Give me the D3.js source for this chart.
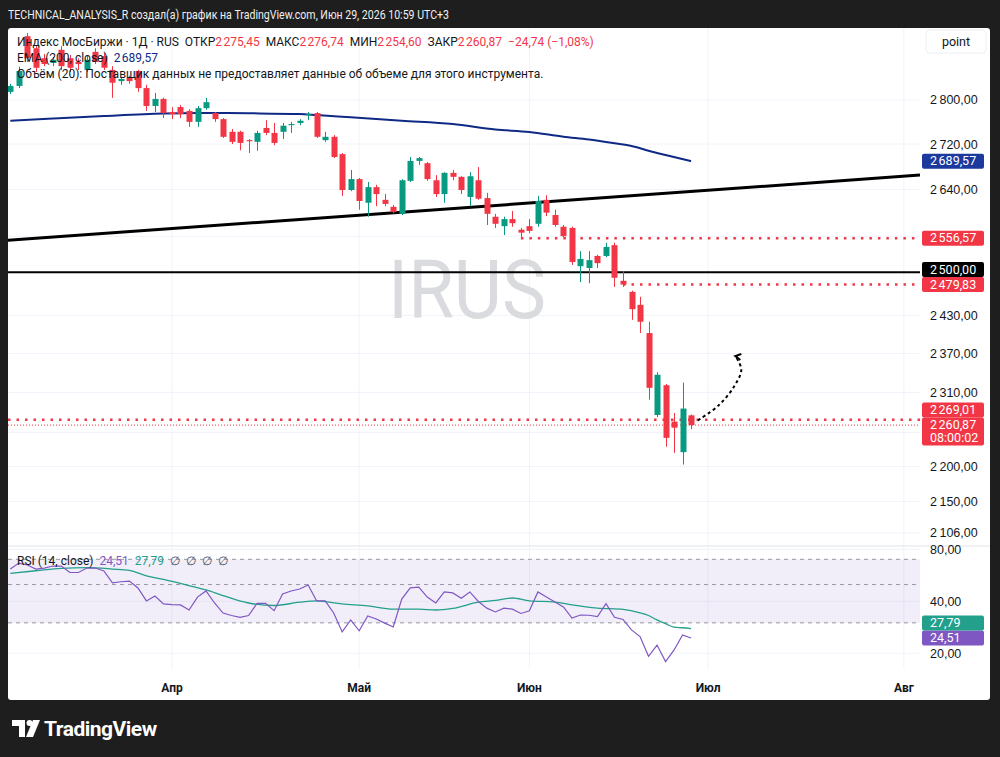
<!DOCTYPE html>
<html lang="ru">
<head>
<meta charset="utf-8">
<title>Индекс МосБиржи</title>
<script src="https://cdn.jsdelivr.net/npm/d3@7"></script>
<style>
  html, body { margin: 0; padding: 0; background: #1e1e1e; }
  #chart svg { display: block; font-family: Roboto, "Noto Sans", sans-serif; }
  #chart text { white-space: pre; }
</style>
</head>
<body>
<div id="chart"></div>
<script>
// ---- data ----
const firstIdx = -19; // trading-day index of the first visible candle, 0 = 1 Apr
const opens = [2815, 2826, 2920, 2897, 2878, 2869, 2894, 2878, 2871, 2856,
  2890, 2882, 2856, 2835, 2841, 2854, 2822, 2789, 2802, 2778,
  2787, 2780, 2760, 2785, 2776, 2765, 2742, 2742, 2727, 2724,
  2749, 2740, 2742, 2754, 2758, 2772, 2776, 2727, 2733, 2702,
  2639, 2658, 2617, 2644, 2622, 2610, 2598, 2655, 2690, 2686,
  2656, 2632, 2669, 2662, 2627, 2656, 2625, 2593, 2577, 2589,
  2571, 2577, 2581, 2622, 2596, 2576, 2574, 2510, 2507, 2527,
  2527, 2545, 2486, 2468, 2447, 2402, 2276, 2321, 2266, 2221, 2275.45];
const highs = [2830, 2862, 2926, 2903, 2886, 2880, 2901, 2884, 2878, 2882,
  2897, 2888, 2863, 2843, 2845, 2856, 2828, 2813, 2804, 2787,
  2791, 2783, 2789, 2804, 2778, 2767, 2747, 2744, 2729, 2744,
  2763, 2758, 2758, 2760, 2765, 2778, 2778, 2742, 2736, 2704,
  2674, 2660, 2653, 2648, 2632, 2613, 2658, 2697, 2697, 2688,
  2665, 2670, 2674, 2663, 2670, 2679, 2634, 2598, 2593, 2603,
  2574, 2589, 2629, 2630, 2605, 2579, 2576, 2535, 2535, 2529,
  2549, 2549, 2502, 2470, 2460, 2420, 2341, 2323, 2279, 2325, 2276.74];
const lows = [2811, 2822, 2871, 2852, 2863, 2863, 2856, 2852, 2856, 2852,
  2867, 2856, 2804, 2828, 2830, 2815, 2780, 2778, 2767, 2765,
  2767, 2751, 2751, 2782, 2760, 2731, 2720, 2709, 2704, 2708,
  2736, 2718, 2729, 2740, 2754, 2763, 2731, 2724, 2695, 2629,
  2637, 2605, 2593, 2611, 2611, 2599, 2596, 2653, 2683, 2655,
  2627, 2617, 2656, 2632, 2611, 2622, 2579, 2574, 2562, 2576,
  2556.57, 2565, 2576, 2594, 2576, 2558, 2512, 2484, 2482, 2507,
  2525, 2476, 2476, 2423, 2402, 2299, 2273, 2229, 2220, 2203, 2254.60];
const closes = [2826, 2854, 2878, 2860, 2867, 2875, 2863, 2860, 2867, 2875,
  2871, 2860, 2832, 2839, 2835, 2822, 2789, 2802, 2776, 2774,
  2774, 2760, 2785, 2796, 2765, 2733, 2724, 2722, 2725, 2740,
  2740, 2722, 2753, 2756, 2762, 2774, 2733, 2733, 2697, 2639,
  2658, 2620, 2644, 2632, 2615, 2601, 2656, 2690, 2695, 2658,
  2632, 2669, 2662, 2639, 2663, 2624, 2598, 2581, 2589, 2582,
  2566, 2569, 2620, 2600, 2579, 2560, 2517, 2522, 2520, 2515,
  2542, 2491, 2479.83, 2440, 2420, 2317, 2337, 2242, 2257, 2285.61, 2260.87];

const emaIdx = [-19, -14, -8, -1, 3, 9, 15, 17, 21, 27, 33, 38, 42, 46, 49, 52, 54, 56, 58, 61];
const emaVals = [2762.1, 2766.1, 2770.7, 2775.2, 2776.2, 2775.6, 2774.3, 2772.5, 2768.3, 2762.1,
  2756.1, 2746.2, 2741.7, 2733.2, 2728.2, 2721.4, 2716.5, 2708.1, 2700.5, 2689.57];

const rsiVals = [61.5, 66.6, 64.9, 61.5, 62.3, 64.0, 64.0, 58.7, 58.7, 62.3,
  62.3, 59.9, 51.2, 51.9, 52.4, 47.8, 40.2, 42.9, 38.6, 38.3,
  38.1, 35.6, 42.3, 45.9, 39.1, 34.2, 33.1, 32.3, 33.1, 38.9,
  38.9, 35.3, 44.1, 45.9, 47.1, 49.7, 40.2, 40.2, 34.2, 26.6,
  31.2, 27.0, 32.9, 31.6, 29.9, 28.4, 41.2, 47.8, 48.3, 42.3,
  39.1, 45.3, 44.7, 41.7, 45.3, 39.9, 36.5, 34.7, 36.5, 36.0,
  34.0, 35.2, 45.3, 42.3, 39.6, 37.1, 32.0, 33.3, 33.2, 32.6,
  38.8, 32.3, 31.4, 27.3, 25.0, 19.2, 22.3, 17.9, 20.9, 25.5, 24.51];
const rsiMaIdx = [-19, -16, -13, -10, -7, -5, -3, -1, 2, 4, 6, 9, 12, 15, 17, 20, 23, 26, 29, 31,
  33, 36, 38, 40, 42, 45, 47, 50, 53, 55, 56, 57, 58, 59, 60, 61];
const rsiMaVals = [58.1, 60.1, 62.1, 62.6, 61.5, 60.4, 56.1, 53.5, 49.3, 46.5, 43.2, 39.1, 37.8, 39.5, 40.2, 38.6, 37.6, 36.0, 36.0, 35.6,
  36.4, 39.5, 40.5, 41.8, 40.2, 39.6, 38.1, 36.5, 35.9, 34.3, 33.1, 31.2, 29.7, 28.3, 28.1, 27.79];

const monthLabels = ['Апр', 'Май', 'Июн', 'Июл', 'Авг'];
const monthIdx = [0, 22, 42, 63, 86];
const priceTicks = [2800, 2720, 2640, 2560, 2500, 2430, 2370, 2310, 2250, 2200, 2150, 2106];
const rsiTicks = [80, 40, 20];
const rsiBands = [70, 50, 30];

const trendIdx = [-19.3, 87.9];
const trendVals = [2553, 2665];
const blackLevel = 2500;
const levelVals = [2556.57, 2479.83, 2269.01];
const levelFrom = [41, 53, -19.3];
const arrowIdx = [61.8, 64.2, 66.0, 66.9, 66.2];
const arrowVals = [2268, 2290, 2318, 2345, 2366];

// ---- setup ----
const W = 1000, H = 757;
const pl = 8, pr = 920, pt = 28, pb = 545;   // main pane
const rt = 547, rb = 668;                     // rsi pane
const GREEN = '#089981', RED = '#f23645', DARK = '#131722';
const PURPLE = '#7e57c2', TEAL = '#22a08b', NAVY = '#0f2a85';

const loc = d3.formatLocale({ decimal: ',', thousands: '\u202f', grouping: [3], currency: ['', ''], minus: '\u2212' });
const fmt2 = loc.format(',.2f');

const candles = opens.map((o, k) => ({ i: firstIdx + k, o, h: highs[k], l: lows[k], c: closes[k] }));
const last = candles[candles.length - 1];
const prev = candles[candles.length - 2];

const x = d3.scaleLinear().domain([-19.27, 87.9]).range([pl, pr]);
const y = d3.scaleLog().domain([2089.4, 2935.8]).range([pb, pt]);
const yr = d3.scaleLog().domain([16.43, 82.5]).range([rb, rt]);

const svg = d3.select('#chart').append('svg')
  .attr('width', W).attr('height', H).attr('viewBox', `0 0 ${W} ${H}`);

svg.append('rect').attr('width', W).attr('height', H).attr('fill', '#1e1e1e');

// header
svg.append('text').attr('x', 8).attr('y', 18.5)
  .attr('font-size', 12.5).attr('fill', '#f0f0f0')
  .attr('textLength', 441).attr('lengthAdjust', 'spacingAndGlyphs')
  .text('TECHNICAL_ANALYSIS_R создал(а) график на TradingView.com, Июн 29, 2026 10:59 UTC+3');

// white panel
svg.append('rect').attr('x', 8).attr('y', 28).attr('width', 982).attr('height', 672)
  .attr('rx', 3).attr('fill', '#ffffff');

const defs = svg.append('defs');
defs.append('clipPath').attr('id', 'clip-main').append('rect')
  .attr('x', pl).attr('y', pt).attr('width', pr - pl).attr('height', pb - pt);
defs.append('clipPath').attr('id', 'clip-rsi').append('rect')
  .attr('x', pl).attr('y', rt).attr('width', pr - pl).attr('height', rb - rt);

// grid
const grid = svg.append('g').attr('stroke', '#f0f3fa').attr('stroke-width', 1);
grid.selectAll('.hg').data(priceTicks).join('line')
  .attr('x1', pl).attr('x2', pr).attr('y1', d => y(d)).attr('y2', d => y(d));
grid.selectAll('.rg').data(rsiTicks).join('line')
  .attr('x1', pl).attr('x2', pr).attr('y1', d => yr(d)).attr('y2', d => yr(d));
grid.selectAll('.vg').data(monthIdx).join('line')
  .attr('x1', d => x(d)).attr('x2', d => x(d)).attr('y1', pt).attr('y2', rb);

// pane separator
svg.append('line').attr('x1', pl).attr('x2', 990).attr('y1', 546).attr('y2', 546)
  .attr('stroke', '#e0e3eb');

// watermark
svg.append('text').attr('x', (pl + pr) / 2 + 3).attr('y', 318)
  .attr('text-anchor', 'middle').attr('font-size', 82).attr('fill', '#dadbdf')
  .attr('textLength', 158).attr('lengthAdjust', 'spacingAndGlyphs')
  .text('IRUS');

// ---- RSI pane ----
const rsiG = svg.append('g').attr('clip-path', 'url(#clip-rsi)');
rsiG.append('rect').attr('x', pl).attr('width', pr - pl)
  .attr('y', yr(rsiBands[0])).attr('height', yr(rsiBands[2]) - yr(rsiBands[0]))
  .attr('fill', 'rgba(126,87,194,0.1)');
rsiG.selectAll('.band').data(rsiBands).join('line')
  .attr('x1', pl).attr('x2', pr).attr('y1', d => yr(d)).attr('y2', d => yr(d))
  .attr('stroke', '#9598a1').attr('stroke-width', 1).attr('stroke-dasharray', '4,4');

const rsiMaLine = d3.line().x(d => x(d[0])).y(d => yr(d[1])).curve(d3.curveMonotoneX);
rsiG.append('path').datum(rsiMaIdx.map((d, k) => [d, rsiMaVals[k]]))
  .attr('d', rsiMaLine).attr('fill', 'none').attr('stroke', TEAL).attr('stroke-width', 1.3);
const rsiLine = d3.line().x((d, k) => x(firstIdx + k)).y(d => yr(d));
rsiG.append('path').datum(rsiVals)
  .attr('d', rsiLine).attr('fill', 'none').attr('stroke', PURPLE).attr('stroke-width', 1.2);

// ---- main pane ----
const main = svg.append('g').attr('clip-path', 'url(#clip-main)');

main.append('line')
  .attr('x1', x(trendIdx[0])).attr('y1', y(trendVals[0]))
  .attr('x2', x(trendIdx[1])).attr('y2', y(trendVals[1]))
  .attr('stroke', '#000').attr('stroke-width', 3);

main.append('line').attr('x1', pl).attr('x2', pr)
  .attr('y1', y(blackLevel)).attr('y2', y(blackLevel))
  .attr('stroke', '#000').attr('stroke-width', 2);

main.selectAll('.lvl').data(levelVals).join('line')
  .attr('x1', (d, k) => Math.max(pl, x(levelFrom[k]))).attr('x2', pr)
  .attr('y1', d => y(d)).attr('y2', d => y(d))
  .attr('stroke', RED).attr('stroke-width', 2.5).attr('stroke-dasharray', '2.5,6');

// last price line
main.append('line').attr('x1', pl).attr('x2', pr)
  .attr('y1', y(last.c)).attr('y2', y(last.c))
  .attr('stroke', RED).attr('stroke-width', 1).attr('stroke-dasharray', '1,2');

// EMA 200
const emaLine = d3.line().x(d => x(d[0])).y(d => y(d[1])).curve(d3.curveMonotoneX);
main.append('path').datum(emaIdx.map((d, k) => [d, emaVals[k]]))
  .attr('d', emaLine).attr('fill', 'none').attr('stroke', NAVY).attr('stroke-width', 2);

// candles
const col = d => (d.c >= d.o ? GREEN : RED);
const cg = main.append('g');
cg.selectAll('.wick').data(candles).join('line')
  .attr('x1', d => Math.round(x(d.i)) + 0.5).attr('x2', d => Math.round(x(d.i)) + 0.5)
  .attr('y1', d => y(d.h)).attr('y2', d => y(d.l))
  .attr('stroke', col).attr('stroke-width', 1);
cg.selectAll('.body').data(candles).join('rect')
  .attr('x', d => Math.round(x(d.i)) - 2.5).attr('width', 6)
  .attr('y', d => y(Math.max(d.o, d.c)))
  .attr('height', d => Math.max(1, Math.abs(y(d.o) - y(d.c))))
  .attr('fill', col);

// dashed arrow
const arrowPts = arrowIdx.map((d, k) => [x(d), y(arrowVals[k])]);
main.append('path').datum(arrowPts)
  .attr('d', d3.line().curve(d3.curveCatmullRom))
  .attr('fill', 'none').attr('stroke', '#000').attr('stroke-width', 2)
  .attr('stroke-dasharray', '3,3');
const tip = arrowPts[arrowPts.length - 1];
main.append('path')
  .attr('d', `M${tip[0] + 5},${tip[1] + 4}L${tip[0]},${tip[1]}L${tip[0] + 6},${tip[1] - 2}`)
  .attr('fill', 'none').attr('stroke', '#000').attr('stroke-width', 2);

// ---- legends ----
function legendLine(yy, parts) {
  const t = svg.append('text').attr('x', 17).attr('y', yy).attr('font-size', 12);
  parts.forEach(p => t.append('tspan').attr('fill', p[1]).text(p[0]));
  return t;
}
const chg = last.c - prev.c;
legendLine(45.5, [
  ['Индекс МосБиржи · 1Д · RUS  ', DARK],
  ['ОТКР', DARK], [fmt2(last.o), RED],
  ['  МАКС', DARK], [fmt2(last.h), RED],
  ['  МИН', DARK], [fmt2(last.l), RED],
  ['  ЗАКР', DARK], [fmt2(last.c), RED],
  ['  ' + fmt2(chg) + ' (' + fmt2(chg / prev.c * 100) + '%)', RED]
]);
legendLine(61.5, [['EMA (200, close)  ', DARK], [fmt2(emaVals[emaVals.length - 1]), NAVY]]);
legendLine(77.5, [['Объём (20): Поставщик данных не предоставляет данные об объеме для этого инструмента.', DARK]]);
legendLine(565, [
  ['RSI (14, close)  ', DARK],
  [fmt2(rsiVals[rsiVals.length - 1]), PURPLE],
  ['  ' + fmt2(rsiMaVals[rsiMaVals.length - 1]), TEAL],
  ['  ∅  ∅  ∅  ∅', '#50535e']
]);

// ---- price scale ----
svg.append('rect').attr('x', 926).attr('y', 30).attr('width', 60).attr('height', 23)
  .attr('rx', 4).attr('fill', '#fff').attr('stroke', '#eceef2');
svg.append('text').attr('x', 956).attr('y', 45.5).attr('text-anchor', 'middle')
  .attr('font-size', 12.5).attr('fill', DARK).text('point');

// price labels, pushed apart when they overlap
function placeBoxes(list) {
  list.forEach(b => { b.top = b.yy - 7.5; });
  list.sort((a, b) => b.yy - a.yy);
  for (let k = 1; k < list.length; k++) {
    const below = list[k - 1], cur = list[k];
    if (cur.top + cur.h > below.top) cur.top = below.top - cur.h;
  }
  return list;
}
const mainBoxes = placeBoxes([
  { yy: y(emaVals[emaVals.length - 1]), h: 15, fill: '#1c3a9e', lines: [fmt2(emaVals[emaVals.length - 1])] },
  { yy: y(levelVals[0]), h: 15, fill: RED, lines: [fmt2(levelVals[0])] },
  { yy: y(blackLevel), h: 15, fill: '#000', lines: [fmt2(blackLevel)] },
  { yy: y(levelVals[1]), h: 15, fill: RED, lines: [fmt2(levelVals[1])] },
  { yy: y(levelVals[2]), h: 15, fill: RED, lines: [fmt2(levelVals[2])] },
  { yy: y(last.c), h: 28, fill: RED, lines: [fmt2(last.c), '08:00:02'] }
]);
const rsiBoxes = placeBoxes([
  { yy: yr(rsiMaVals[rsiMaVals.length - 1]), h: 15, fill: TEAL, lines: [fmt2(rsiMaVals[rsiMaVals.length - 1])] },
  { yy: yr(rsiVals[rsiVals.length - 1]), h: 15, fill: PURPLE, lines: [fmt2(rsiVals[rsiVals.length - 1])] }
]);

// tick labels that a price box covers are not shown
const free = (yy, list) => !list.some(b => yy > b.top - 6 && yy < b.top + b.h + 6);
const visTicks = priceTicks.filter(v => free(y(v), mainBoxes));
const visRsiTicks = rsiTicks.filter(v => free(yr(v), rsiBoxes));

const yAxis = svg.append('g').attr('transform', `translate(${pr},0)`)
  .call(d3.axisRight(y).tickValues(visTicks).tickFormat(fmt2).tickSize(0).tickPadding(10));
yAxis.select('.domain').remove();
yAxis.selectAll('text').attr('font-size', 12.5).attr('fill', DARK).attr('font-family', null);

const rAxis = svg.append('g').attr('transform', `translate(${pr},0)`)
  .call(d3.axisRight(yr).tickValues(visRsiTicks).tickFormat(fmt2).tickSize(0).tickPadding(10));
rAxis.select('.domain').remove();
rAxis.selectAll('text').attr('font-size', 12.5).attr('fill', DARK).attr('font-family', null);

const bg = svg.append('g');
mainBoxes.concat(rsiBoxes).forEach(b => {
  bg.append('rect').attr('x', 922).attr('y', b.top).attr('width', 62).attr('height', b.h)
    .attr('rx', 2).attr('fill', b.fill);
  bg.append('text').attr('x', 930).attr('y', b.top + 11.5)
    .attr('font-size', 12.5).attr('fill', '#fff')
    .selectAll('tspan').data(b.lines).join('tspan')
    .attr('x', 930).attr('dy', (s, k) => (k === 0 ? 0 : 13)).text(s => s);
});

// ---- time axis ----
svg.append('g').selectAll('text').data(monthLabels).join('text')
  .attr('x', (d, k) => x(monthIdx[k])).attr('y', 692)
  .attr('text-anchor', 'middle').attr('font-size', 12).attr('font-weight', 'bold')
  .attr('fill', DARK).text(d => d);

// ---- footer logo ----
const logo = svg.append('g').attr('fill', '#ffffff');
logo.append('path').attr('d', 'M12,720h13v17h-6v-11h-7z');
logo.append('circle').attr('cx', 29.5).attr('cy', 723).attr('r', 3);
logo.append('path').attr('d', 'M33,720h7l-7,17h-7z');
logo.append('text').attr('x', 44).attr('y', 735.5).attr('font-size', 21).attr('font-weight', 'bold')
  .attr('letter-spacing', -0.5).text('TradingView');
</script>
</body>
</html>
